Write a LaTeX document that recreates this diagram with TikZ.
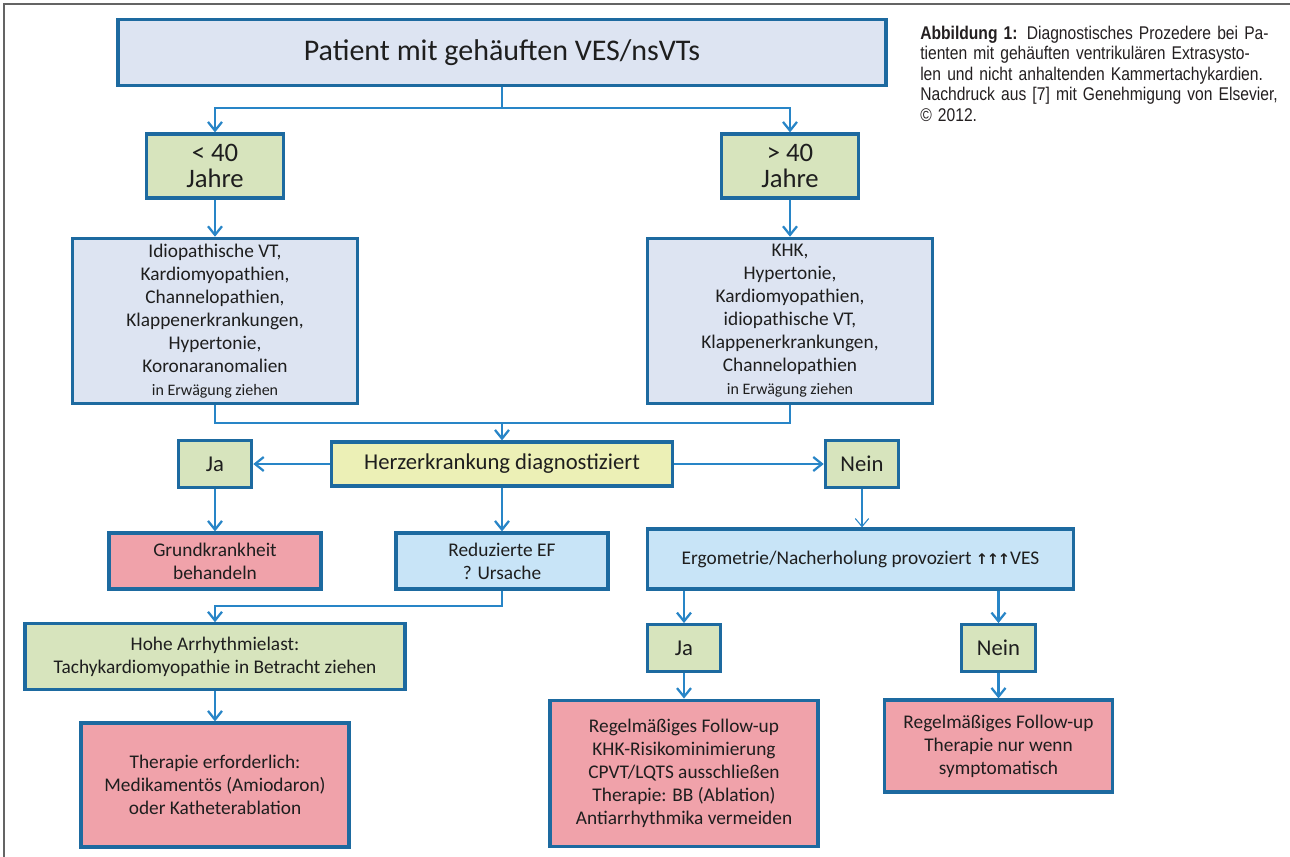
\documentclass[tikz,border=0pt]{standalone}
\usepackage{fontspec}
\setmainfont{Carlito}
\newfontfamily\capfont[FakeStretch=0.85]{Liberation Sans}
\newfontfamily\symfont{DejaVu Sans}
\usetikzlibrary{arrows.meta}
\definecolor{bord}{RGB}{29,106,160}
\definecolor{conn}{RGB}{40,133,199}
\definecolor{fgray}{RGB}{221,228,242}
\definecolor{fgreen}{RGB}{215,228,189}
\definecolor{fyellow}{RGB}{236,240,182}
\definecolor{fred}{RGB}{240,162,170}
\definecolor{fblue}{RGB}{200,228,247}
\definecolor{txt}{RGB}{30,30,30}
\definecolor{captxt}{RGB}{35,31,32}
\definecolor{framegray}{RGB}{100,100,100}
\newcommand\capline[1]{\makebox[\linewidth][s]{#1}}
\begin{document}
\begin{tikzpicture}[x=0.75pt,y=-0.75pt,
  box/.style={draw=bord, line width=2.4pt, align=center, inner sep=0pt, text=txt,
    font=\fontsize{14.5}{17.25}\selectfont},
  conline/.style={draw=conn, line width=1.7pt},
  arr/.style={conline, -{Straight Barb[length=6.5pt,width=10.5pt]}},
  thinarr/.style={draw=conn, line width=0.8pt, -{Straight Barb[length=6pt,width=10pt]}},
  agebox/.style={box, fill=fgreen, minimum width=103pt, minimum height=48pt,
    font=\fontsize{20}{20}\selectfont},
  yesno/.style={box, fill=fgreen, minimum width=55pt, minimum height=35pt,
    font=\fontsize{17}{20}\selectfont}
]
\useasboundingbox (0,0) rectangle (1290,857);
\draw[framegray, line width=1.5pt] (1290,4) -- (4,4) -- (4,857);

% nodes
\node[box, fill=fgray, minimum width=576pt, minimum height=50pt,
  font=\fontsize{22.5}{27}\selectfont] (top) at (502,52.5) {Patient mit gehäuften VES/nsVTs};
\node[agebox] (y40) at (215,166) {< 40\\Jahre};
\node[agebox] (o40) at (790,166) {> 40\\Jahre};
\node[box, fill=fgray, minimum width=214pt, minimum height=124pt] (listL) at (215,321)
  {Idiopathische VT,\\Kardiomyopathien,\\Channelopathien,\\Klappenerkrankungen,\\Hypertonie,\\Koronaranomalien\\{\fontsize{12}{14}\selectfont in Erwägung ziehen}};
\node[box, fill=fgray, minimum width=214pt, minimum height=124pt] (listR) at (790,321)
  {KHK,\\Hypertonie,\\Kardiomyopathien,\\idiopathische VT,\\Klappenerkrankungen,\\Channelopathien\\{\fontsize{12}{14}\selectfont in Erwägung ziehen}};
\node[box, fill=fyellow, minimum width=256pt, minimum height=33pt,
  font=\fontsize{17}{20}\selectfont] (herz) at (502,464) {Herzerkrankung diagnostiziert};
\node[yesno] (ja) at (215,464) {Ja};
\node[yesno] (nein) at (862,464) {Nein};
\node[box, fill=fred, minimum width=159pt, minimum height=42pt] (grund) at (215,561)
  {Grundkrankheit\\behandeln};
\node[box, fill=fblue, minimum width=159pt, minimum height=42pt] (reduz) at (502,561)
  {Reduzierte EF\\? Ursache};
\node[box, fill=fgreen, minimum width=285pt, minimum height=49pt] (hohe) at (215,656.5)
  {Hohe Arrhythmielast:\\Tachykardiomyopathie in Betracht ziehen};
\node[box, fill=fred, minimum width=201pt, minimum height=93pt] (ther) at (215,785)
  {Therapie erforderlich:\\Medikamentös (Amiodaron)\\oder Katheterablation};
\node[box, fill=fblue, minimum width=320pt, minimum height=45pt] (ergo) at (860.5,559)
  {Ergometrie/Nacherholung provoziert {\symfont\bfseries\fontsize{11}{11}\selectfont ↑\kern-1pt↑\kern-1pt↑}VES};
\node[yesno] (ja2) at (684,648) {Ja};
\node[yesno] (nein2) at (998.5,648) {Nein};
\node[box, fill=fred, minimum width=201pt, minimum height=110pt] (regel1) at (684,773.5)
  {Regelmäßiges Follow-up\\KHK-Risikominimierung\\CPVT/LQTS ausschließen\\Therapie: BB (Ablation)\\Antiarrhythmika vermeiden};
\node[box, fill=fred, minimum width=171pt, minimum height=69pt] (regel2) at (998.5,746)
  {Regelmäßiges Follow-up\\Therapie nur wenn\\symptomatisch};

% caption
\node[anchor=base west, text width=262.5pt, inner sep=0pt, text=captxt,
  font=\capfont\fontsize{13.8}{15.4}\selectfont] (cap) at (920,39)
  {\capline{\textbf{Abbildung 1:} Diagnostisches Prozedere bei Pa-}\\
   \capline{tienten mit gehäuften ventrikulären Extrasysto-}\\
   \capline{len und nicht anhaltenden Kammertachykardien.}\\
   \capline{Nachdruck aus [7] mit Genehmigung von Elsevier,}\\
   © 2012.};

% connectors
\coordinate (b1) at (502,108);
\draw[conline] (top.south) -- (b1);
\draw[arr] (b1) -| (y40.north);
\draw[arr] (b1) -| (o40.north);
\draw[arr] (y40) -- (listL);
\draw[arr] (o40) -- (listR);
\coordinate (m1) at (502,423);
\draw[conline] (listL.south) |- (m1);
\draw[conline] (listR.south) |- (m1);
\draw[arr] (m1) -- (herz.north);
\draw[arr] (herz.west) -- (herz.west -| ja.east);
\draw[arr] (herz.east) -- (herz.east -| nein.west);
\draw[arr] (ja) -- (grund);
\draw[arr] (herz) -- (reduz);
\coordinate (rk) at (215,606);
\draw[arr] (reduz.south) |- (rk) -- (hohe.north);
\draw[arr] (hohe) -- (ther);
\draw[thinarr] (nein) -- (ergo.north -| nein);
\draw[arr] (ergo.south -| ja2) -- (ja2.north);
\draw[arr] (ergo.south -| nein2) -- (nein2.north);
\draw[arr] (ja2) -- (regel1);
\draw[arr] (nein2) -- (regel2);
\end{tikzpicture}
\end{document}
